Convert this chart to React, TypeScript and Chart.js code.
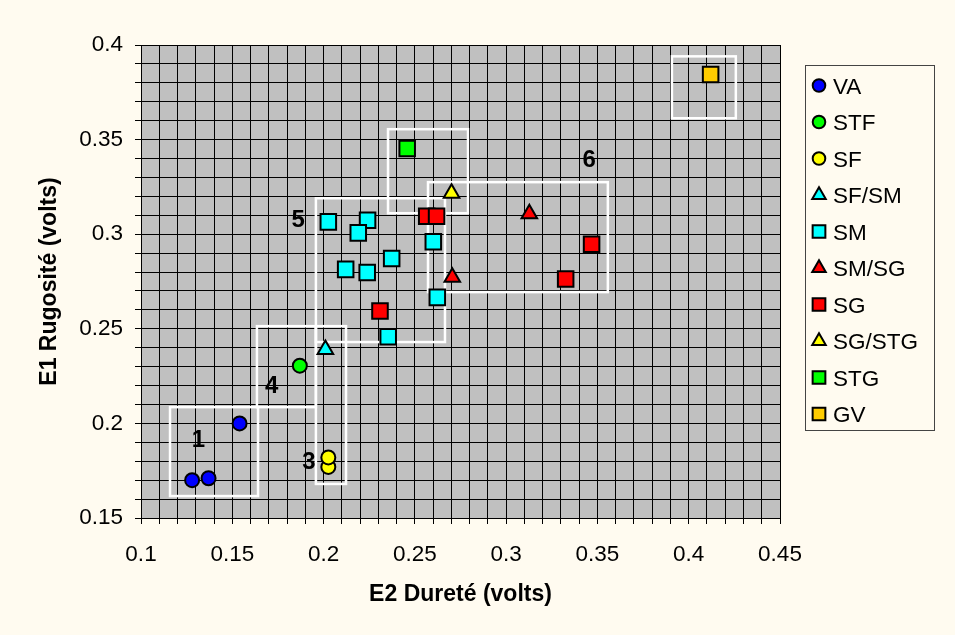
import React, { useEffect, useRef } from 'react';
import { Chart, registerables } from 'chart.js';
import { drawPoint } from 'chart.js/helpers';

Chart.register(...registerables);

// ---------- data ----------
const seriesNames = ['VA', 'STF', 'SF', 'SF/SM', 'SM', 'SM/SG', 'SG', 'SG/STG', 'STG', 'GV'];

const vaX = [0.128, 0.137, 0.154];
const vaY = [0.170, 0.171, 0.200];
const stfX = [0.187];
const stfY = [0.2305];
const sfX = [0.2026, 0.2026];
const sfY = [0.177, 0.182];
const sfsmX = [0.201];
const sfsmY = [0.239];
const smX = [0.2241, 0.2026, 0.2190, 0.2373, 0.2121, 0.2239, 0.2354, 0.2601, 0.2623];
const smY = [0.3074, 0.3065, 0.3007, 0.2872, 0.2814, 0.2798, 0.2458, 0.2960, 0.2666];
const smsgX = [0.3127, 0.2705];
const smsgY = [0.3108, 0.2772];
const sgX = [0.2565, 0.2619, 0.2309, 0.3468, 0.3326];
const sgY = [0.3095, 0.3095, 0.2594, 0.2947, 0.2763];
const sgstgX = [0.2701];
const sgstgY = [0.3217];
const stgX = [0.2458];
const stgY = [0.3453];
const gvX = [0.412];
const gvY = [0.3844];

const xTickValues = [0.1, 0.15, 0.2, 0.25, 0.3, 0.35, 0.4, 0.45];
const xTickLabels = ['0.1', '0.15', '0.2', '0.25', '0.3', '0.35', '0.4', '0.45'];
const yTickValues = [0.15, 0.2, 0.25, 0.3, 0.35, 0.4];
const yTickLabels = ['0.15', '0.2', '0.25', '0.3', '0.35', '0.4'];

// region outlines (data units): [x1, y1, x2, y2]
const regionBoxes = [
  [0.1159, 0.1616, 0.1641, 0.2086],
  [0.1635, 0.2086, 0.1958, 0.2514],
  [0.1958, 0.168, 0.2123, 0.2514],
  [0.1958, 0.243, 0.2665, 0.319],
  [0.2353, 0.3111, 0.2791, 0.3555],
  [0.2572, 0.2694, 0.3557, 0.3275],
  [0.3908, 0.3613, 0.4258, 0.394],
];
const regionLabels = ['1', '3', '4', '5', '6'];
const regionLabelX = [0.1314, 0.192, 0.1716, 0.1861, 0.3455];
const regionLabelY = [0.1921, 0.1806, 0.2208, 0.3083, 0.34];

// ---------- styles ----------
const FONT = "'Liberation Sans', Arial, sans-serif";
const CREAM = '#FFFBF0';
const PLOT_BG = '#C0C0C0';
const TXT = 22.5;

const zip = (xs: number[], ys: number[]) => xs.map((x, i) => ({ x, y: ys[i] }));

const seriesData = [
  zip(vaX, vaY), zip(stfX, stfY), zip(sfX, sfY), zip(sfsmX, sfsmY), zip(smX, smY),
  zip(smsgX, smsgY), zip(sgX, sgY), zip(sgstgX, sgstgY), zip(stgX, stgY), zip(gvX, gvY),
];
const seriesColors = ['#0000FF', '#00FF00', '#FFFF00', '#00FFFF', '#00FFFF', '#FF0000', '#FF0000', '#FFFF00', '#00FF00', '#FFCC00'];
const seriesShapes = ['circle', 'circle', 'circle', 'triangle', 'rect', 'triangle', 'rect', 'triangle', 'rect', 'rect'];
const shapeRadius: Record<string, number> = { circle: 7, rect: 11, triangle: 9 };
const legendRadius: Record<string, number> = { circle: 6.3, rect: 9, triangle: 7.8 };

const bgPlugin = {
  id: 'bgPlugin',
  beforeDraw(chart: any) {
    const { ctx, chartArea: a, width, height } = chart;
    ctx.save();
    ctx.fillStyle = CREAM;
    ctx.fillRect(0, 0, width, height);
    ctx.fillStyle = PLOT_BG;
    ctx.fillRect(a.left, a.top, a.right - a.left, a.bottom - a.top);
    ctx.restore();
  },
};

const regionPlugin = {
  id: 'regionPlugin',
  beforeDatasetsDraw(chart: any) {
    const { ctx, scales } = chart;
    const sx = scales.x, sy = scales.y;
    ctx.save();
    ctx.strokeStyle = '#FFFFFF';
    ctx.lineWidth = 2.5;
    regionBoxes.forEach(([x1, y1, x2, y2]) => {
      const px1 = sx.getPixelForValue(x1), px2 = sx.getPixelForValue(x2);
      const py1 = sy.getPixelForValue(y1), py2 = sy.getPixelForValue(y2);
      ctx.strokeRect(Math.min(px1, px2), Math.min(py1, py2), Math.abs(px2 - px1), Math.abs(py2 - py1));
    });
    ctx.fillStyle = '#000';
    ctx.font = `bold 24px ${FONT}`;
    ctx.textAlign = 'center';
    ctx.textBaseline = 'alphabetic';
    regionLabels.forEach((t, i) => {
      const px = sx.getPixelForValue(regionLabelX[i]);
      const py = sy.getPixelForValue(regionLabelY[i]);
      ctx.fillText(t, px, py + 8.5);
    });
    ctx.restore();
  },
};

const LEG = { left: 805, top: 65, right: 934, bottom: 430, markerX: 819, textX: 833, firstY: 85.5, step: 36.5 };

const legendPlugin = {
  id: 'legendPlugin',
  afterDraw(chart: any) {
    const { ctx } = chart;
    ctx.save();
    ctx.strokeStyle = '#444';
    ctx.lineWidth = 1;
    ctx.strokeRect(LEG.left + 0.5, LEG.top + 0.5, LEG.right - LEG.left, LEG.bottom - LEG.top);
    chart.data.datasets.forEach((ds: any, i: number) => {
      const cy = LEG.firstY + i * LEG.step;
      ctx.fillStyle = ds.backgroundColor;
      ctx.strokeStyle = '#000';
      ctx.lineWidth = 2;
      drawPoint(ctx, { pointStyle: ds.pointStyle, rotation: 0, radius: legendRadius[ds.pointStyle], borderWidth: 2 }, LEG.markerX, cy);
      ctx.fillStyle = '#000';
      ctx.font = `${TXT}px ${FONT}`;
      ctx.textAlign = 'left';
      ctx.textBaseline = 'alphabetic';
      ctx.fillText(ds.label, LEG.textX, cy + 8);
    });
    ctx.restore();
  },
};

const tickCb = (vals: number[], labels: string[]) => (value: any) => {
  const v = Number(value);
  const i = vals.findIndex((t) => Math.abs(t - v) < 1e-6);
  return i >= 0 ? labels[i] : '';
};

export default function App() {
  const ref = useRef<HTMLCanvasElement | null>(null);

  useEffect(() => {
    if (!ref.current) return;
    const datasets = seriesNames.map((name, i) => ({
      label: name,
      data: seriesData[i],
      pointStyle: seriesShapes[i],
      pointRadius: shapeRadius[seriesShapes[i]],
      pointHoverRadius: shapeRadius[seriesShapes[i]],
      backgroundColor: seriesColors[i],
      borderColor: '#000000',
      pointBorderWidth: 2,
      borderWidth: 2,
      showLine: false,
      order: i,
    }));

    const chart = new Chart(ref.current, {
      type: 'scatter',
      data: { datasets } as any,
      options: {
        animation: false,
        responsive: false,
        devicePixelRatio: 1,
        events: [],
        layout: { padding: { left: 0, top: 45, right: 175, bottom: 0 } },
        plugins: { legend: { display: false }, tooltip: { enabled: false } },
        scales: {
          x: {
            type: 'linear',
            min: 0.1,
            max: 0.45,
            ticks: {
              stepSize: 0.01,
              autoSkip: false,
              maxRotation: 0,
              minRotation: 0,
              padding: 17,
              color: '#000',
              font: { family: FONT, size: TXT },
              callback: tickCb(xTickValues, xTickLabels),
            },
            grid: { color: '#000', lineWidth: 1, tickLength: 6, tickColor: '#000', drawTicks: true },
            border: { color: '#000', width: 1 },
            title: {
              display: true,
              text: 'E2 Dureté (volts)',
              color: '#000',
              font: { family: FONT, size: 23, weight: 'bold' },
              padding: { top: 0, bottom: 27 },
            },
            afterFit: (s: any) => { s.height = 117; },
          },
          y: {
            type: 'linear',
            min: 0.15,
            max: 0.4,
            ticks: {
              stepSize: 0.01,
              autoSkip: false,
              padding: 12,
              color: '#000',
              font: { family: FONT, size: TXT },
              callback: tickCb(yTickValues, yTickLabels),
            },
            grid: { color: '#000', lineWidth: 1, tickLength: 6, tickColor: '#000', drawTicks: true },
            border: { color: '#000', width: 1 },
            title: {
              display: true,
              text: 'E1 Rugosité (volts)',
              color: '#000',
              font: { family: FONT, size: 23, weight: 'bold' },
              padding: { top: 36, bottom: 0 },
            },
            afterFit: (s: any) => { s.width = 141; },
          },
        },
      } as any,
      plugins: [bgPlugin, regionPlugin, legendPlugin],
    });
    return () => chart.destroy();
  }, []);

  return (
    <div style={{ position: 'absolute', left: 0, top: 0, width: 955, height: 635, background: CREAM }}>
      <canvas ref={ref} width={955} height={635} style={{ display: 'block', width: 955, height: 635 }} />
    </div>
  );
}
